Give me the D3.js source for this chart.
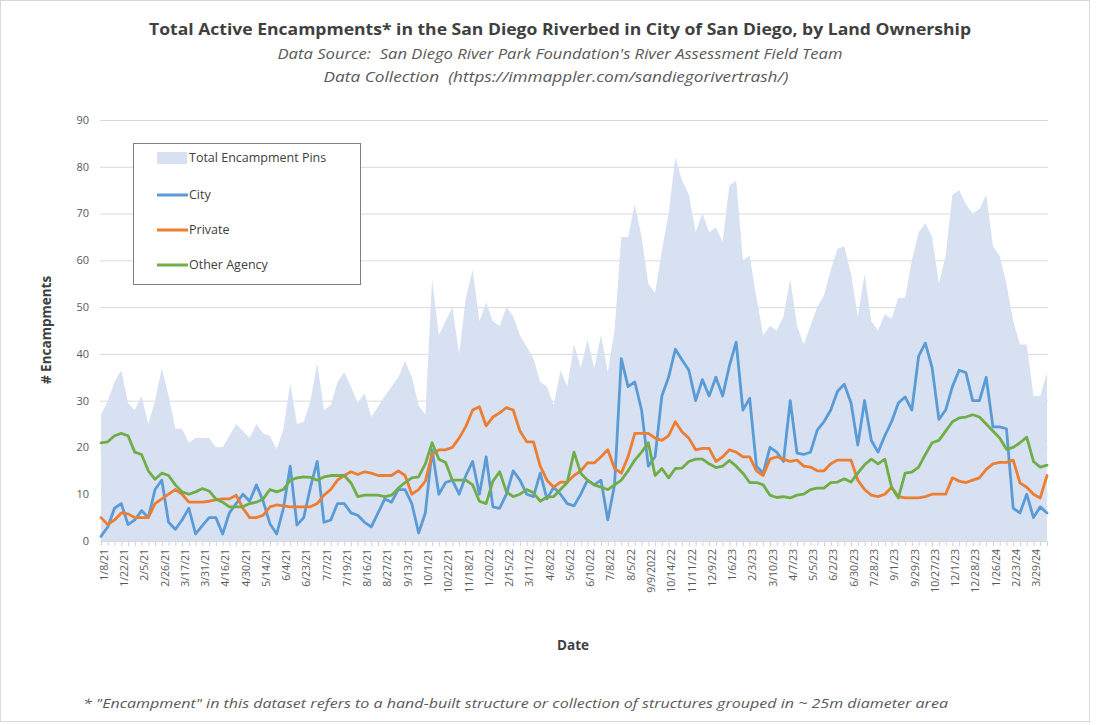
<!DOCTYPE html>
<html>
<head>
<meta charset="utf-8">
<script src="https://cdn.jsdelivr.net/npm/d3@7/dist/d3.min.js"></script>
<style>
  html, body { margin: 0; padding: 0; background: #fff; }
  svg { display: block; }
  text { font-family: "Open Sans", "Lato", sans-serif; white-space: pre; }
</style>
</head>
<body>
<svg id="chart" width="1103" height="725"></svg>
<script>
// ---- Data ----
const tickLabels = ["1/8/21","1/22/21","2/5/21","2/26/21","3/17/21","3/31/21","4/16/21","4/30/21","5/14/21","6/4/21","6/23/21","7/7/21","7/19/21","8/16/21","8/27/21","9/13/21","10/1/21","10/22/21","11/18/21","1/20/22","2/15/22","3/11/22","4/8/22","5/6/22","6/10/22","7/8/22","8/5/22","9/9/2022","10/14/22","11/11/22","12/9/22","1/6/23","2/3/23","3/10/23","4/7/23","5/5/23","6/2/23","6/30/23","7/28/23","9/1/23","9/29/23","10/27/23","12/1/23","12/28/23","1/26/24","2/23/24","3/29/24"];
const labelEvery = 3;

const totalPins = [27,30,34,36.5,29.5,28,31,25,30,37,31,24,24,21,22,22,22,20,20,22.5,25,23.5,22,25,23,22.5,19.5,24,33.7,25,25.5,30,38,28,29,34,36,33,29.5,31.6,26.5,28.7,31,33,35,38.5,35,29,27,56,44,47,50,40,52,58,47,51,47,46,50,48,44,41.5,39,34,33,29,36.5,33,42,37,43,37,44,36,45,65,65,72,65,55,53,62,70,82,77,74,66,70,66,67,64,76,77,60,61,52,44,46,45,48,56,46,42,46,50,52.5,58,62.5,63,57,48,57,47,45,48.5,47.5,52,52,60,66,68,65,55,61,74,75,72,70,71,74,63,61,55,47,42,42,31,31,36];

const city = [1,3,7,8,3.5,4.5,6.5,5,11,13,4,2.5,4.5,7,1.5,3.3,5,5,1.5,6,8,10,8.5,12,8.5,3.7,1.5,7,16,3.4,5,11.5,17,4,4.5,8,8,6,5.5,4,3,6,9,8.3,11,11,8,1.7,6,19.5,10,12.5,13,10,14,17,10,18,7.3,7,10,15,13,10,9.5,14.5,9,11.5,10,8,7.5,10,13,12,13,4.5,12,39,33,34,28,16,18,31,35,41,38.7,36.5,30,34.5,31,35,31,37.5,42.5,28,30.5,16,14.5,20,19,17,30,18.8,18.5,19,23.7,25.5,28,32,33.5,29.5,20.5,30,21.5,19,22.5,25.5,29.5,30.8,28,39.5,42.3,37,26,28,33,36.5,36,30,30,35,24.4,24.4,24,7,6,10,5,7.3,6];

const priv = [5,3.5,4.5,6,5.8,5,5,5,8,9,10,11,10,8.3,8.3,8.3,8.5,8.8,9,9,9.8,7,5,5,5.5,7.3,7.7,7.5,7.3,7.3,7.3,7.3,8,9.8,11,13,14,14.8,14.2,14.8,14.5,14,14,14,15,14,10,11,12.8,18.5,19.5,19.5,20,22,24.5,28,28.7,24.6,26.5,27.4,28.5,28,23.5,21.2,21.2,16,13,11.5,12.6,12.6,14,15,16.7,16.7,18,19.5,15.5,14.5,18,23,23,23,22,21.5,22.5,25.5,23.3,22,19.5,19.8,19.8,17,18,19.5,19,18,18,15,14,17.5,18,17.5,17,17.3,16,15.8,15,15,16.5,17.3,17.3,17.3,13,11,9.8,9.5,10,11.5,9.5,9.2,9.2,9.2,9.5,10,10,10,13.5,12.8,12.5,13,13.5,15.3,16.5,16.8,16.8,17.3,12.4,11.5,10,9.2,14];

const otherAgency = [21,21.2,22.5,23,22.5,19,18.5,15,13.2,14.5,14,12,10.5,10,10.5,11.2,10.7,9,8.3,7.3,7.3,7.3,8,8.3,9,11,10.5,11,13,13.5,13.7,13.6,13,13.7,14,14,14,12.4,9.5,9.8,9.8,9.8,9.5,9.8,11.3,12.5,13.5,13.7,16.5,21,17.5,16.8,13,13,13,12,8.5,8,12.8,14.8,10.5,9.5,10,11,10.3,8.5,9.4,9.5,11,12.5,19,14.5,13,12,11.5,11,12,13,15,17.3,19,21,14,15.5,13.5,15.5,15.6,17,17.5,17.5,16.5,15.7,16,17.2,16,14.5,12.5,12.5,12,9.8,9.3,9.5,9.2,9.8,10,11,11.3,11.3,12.5,12.6,13.3,12.6,14.5,16.3,17.5,16.5,17.5,11.5,9.2,14.5,14.7,15.8,18.5,21,21.5,23.5,25.5,26.3,26.5,27,26.5,25,23.5,22,19.6,20,21,22.2,17,15.8,16.2];

const yTicks = [0,10,20,30,40,50,60,70,80,90];

const seriesLines = [
  { name: "City", values: city, color: "#5b9bd5" },
  { name: "Private", values: priv, color: "#ed7d31" },
  { name: "Other Agency", values: otherAgency, color: "#70ad47" }
];
const areaColor = "#d7e1f2";

// ---- Layout ----
const svg = d3.select("#chart");
const N = totalPins.length;
const plot = { left: 101, right: 1047, top: 120, bottom: 541 };

const x = d3.scaleLinear().domain([0, N - 1]).range([plot.left, plot.right]);
const y = d3.scaleLinear().domain([0, 90]).range([plot.bottom, plot.top]);

// chart border
svg.append("rect").attr("x", 0.5).attr("y", 0.5).attr("width", 1089).attr("height", 721)
  .attr("fill", "#fff").attr("stroke", "#d9d9d9");

// gridlines
svg.append("g").selectAll("line").data(yTicks).join("line")
  .attr("x1", 100).attr("x2", 1048)
  .attr("y1", d => y(d) + 0.5).attr("y2", d => y(d) + 0.5)
  .attr("stroke", "#d9d9d9").attr("stroke-width", 1);

// y tick labels
svg.append("g").selectAll("text").data(yTicks).join("text")
  .attr("x", 89).attr("y", d => y(d)).attr("dy", "0.35em")
  .attr("text-anchor", "end").attr("font-size", 11).attr("fill", "#595959")
  .text(d => d);

// area
const area = d3.area().x((d, i) => x(i)).y0(y(0)).y1(d => y(d)).curve(d3.curveLinear);
svg.append("path").datum(totalPins).attr("d", area).attr("fill", areaColor);

// lines
const line = d3.line().x((d, i) => x(i)).y(d => y(d));
svg.append("g").selectAll("path").data(seriesLines).join("path")
  .attr("d", d => line(d.values))
  .attr("fill", "none").attr("stroke", d => d.color)
  .attr("stroke-width", 2.8).attr("stroke-linejoin", "round").attr("stroke-linecap", "round");

// x ticks (every category)
svg.append("g").selectAll("line").data(d3.range(N)).join("line")
  .attr("x1", i => x(i) + 0.5).attr("x2", i => x(i) + 0.5)
  .attr("y1", plot.bottom + 1).attr("y2", plot.bottom + 5)
  .attr("stroke", "#c8d3e6").attr("stroke-width", 1);

// x tick labels
svg.append("g").selectAll("text").data(tickLabels).join("text")
  .attr("transform", (d, i) => `translate(${x(i * labelEvery) + 3},${plot.bottom + 8}) rotate(-90)`)
  .attr("dy", "0.35em").attr("text-anchor", "end")
  .attr("font-size", 10.5).attr("fill", "#595959")
  .text(d => d);

// titles
svg.append("text").attr("x", 560).attr("y", 35).attr("text-anchor", "middle")
  .attr("font-size", 16.5).attr("font-weight", "bold").attr("fill", "#404040")
  .attr("textLength", 822).attr("lengthAdjust", "spacingAndGlyphs")
  .text("Total Active Encampments* in the San Diego Riverbed in City of San Diego, by Land Ownership");
svg.append("text").attr("x", 560).attr("y", 59).attr("text-anchor", "middle")
  .attr("font-size", 14).attr("font-style", "italic").attr("fill", "#595959")
  .attr("textLength", 565).attr("lengthAdjust", "spacingAndGlyphs")
  .text("Data Source:  San Diego River Park Foundation's River Assessment Field Team");
svg.append("text").attr("x", 556).attr("y", 82).attr("text-anchor", "middle")
  .attr("font-size", 14).attr("font-style", "italic").attr("fill", "#595959")
  .attr("textLength", 465).attr("lengthAdjust", "spacingAndGlyphs")
  .text("Data Collection  (https://immappler.com/sandiegorivertrash/)");

// axis titles
svg.append("text").attr("transform", "translate(51,330) rotate(-90)")
  .attr("text-anchor", "middle").attr("font-size", 13.5).attr("font-weight", "bold").attr("fill", "#404040")
  .text("# Encampments");
svg.append("text").attr("x", 573).attr("y", 650).attr("text-anchor", "middle")
  .attr("font-size", 13.5).attr("font-weight", "bold").attr("fill", "#404040")
  .text("Date");

// footnote
svg.append("text").attr("x", 83).attr("y", 708).attr("text-anchor", "start")
  .attr("font-size", 13).attr("font-style", "italic").attr("fill", "#595959")
  .attr("textLength", 865).attr("lengthAdjust", "spacingAndGlyphs")
  .text("* \"Encampment\" in this dataset refers to a hand-built structure or collection of structures grouped in ~ 25m diameter area");

// legend
const lg = svg.append("g");
lg.append("rect").attr("x", 133.5).attr("y", 143.5).attr("width", 227).attr("height", 141)
  .attr("fill", "#fff").attr("stroke", "#7f7f7f").attr("stroke-width", 1);
const legendItems = [{ name: "Total Encampment Pins", type: "area", color: areaColor }]
  .concat(seriesLines.map(s => ({ name: s.name, type: "line", color: s.color })));
const rowY = [158, 195, 230, 265];
legendItems.forEach((it, i) => {
  if (it.type === "area") {
    lg.append("rect").attr("x", 157).attr("y", rowY[i] - 6).attr("width", 30).attr("height", 12).attr("fill", it.color);
  } else {
    lg.append("line").attr("x1", 157).attr("x2", 188).attr("y1", rowY[i]).attr("y2", rowY[i])
      .attr("stroke", it.color).attr("stroke-width", 3);
  }
  lg.append("text").attr("x", 189).attr("y", rowY[i]).attr("dy", "0.35em")
    .attr("font-size", 12.5).attr("fill", "#404040").text(it.name);
});
</script>
</body>
</html>
